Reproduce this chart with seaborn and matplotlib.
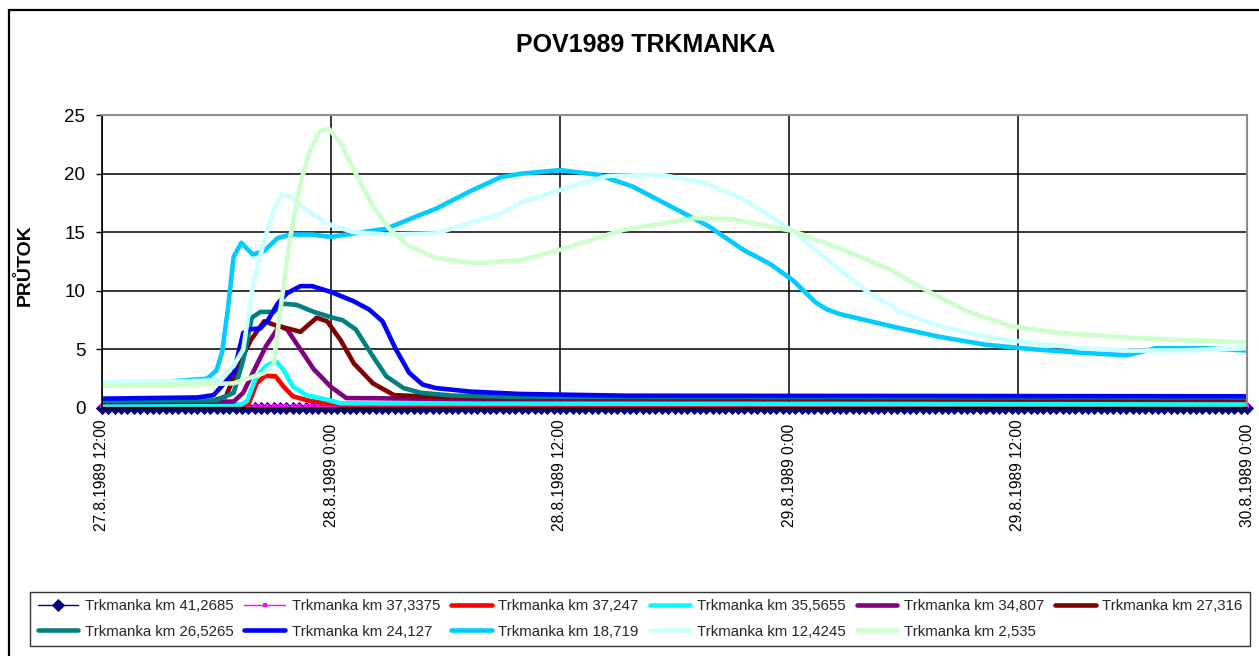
import numpy as np
import pandas as pd
import matplotlib
matplotlib.use("Agg")
import matplotlib.pyplot as plt
from matplotlib.patches import Rectangle
import seaborn as sns

TITLE = "POV1989 TRKMANKA"
Y_LABEL = "PRŮTOK"
X_TICK_HOURS = [0, 12, 24, 36, 48, 60]
X_TICK_LABELS = ["27.8.1989 12:00", "28.8.1989 0:00", "28.8.1989 12:00",
                 "29.8.1989 0:00", "29.8.1989 12:00", "30.8.1989 0:00"]
Y_TICKS = [0, 5, 10, 15, 20, 25]

# gauge readings every 20 minutes, hours since 27.8.1989 12:00
SAMPLE_HOURS = np.arange(0, 60 + 1e-6, 1 / 3)

# upstream profiles stay at their base level for the whole event
KM41_2685_FLOW = [0.0] * len(SAMPLE_HOURS)
KM37_3375_FLOW = [0.15] * len(SAMPLE_HOURS)

KM37_247_H = [0, 7.4, 7.7, 8.1, 8.55, 9.1, 9.5, 10.0, 10.9, 11.8, 12.5, 60]
KM37_247_Q = [0.25, 0.25, 0.4, 2.1, 2.75, 2.7, 1.85, 1.0, 0.6, 0.4, 0.3, 0.3]

KM35_5655_H = [0, 7.3, 7.6, 8.1, 8.6, 9.1, 9.5, 10.0, 10.7, 11.8, 12.5, 60]
KM35_5655_Q = [0.3, 0.3, 0.6, 2.7, 3.6, 4.0, 3.3, 1.85, 1.1, 0.7, 0.4, 0.3]

KM34_807_H = [0, 6.9, 7.4, 7.9, 8.6, 9.3, 9.7, 10.4, 11.1, 12, 12.8, 20, 60]
KM34_807_Q = [0.5, 0.55, 1.3, 3.0, 5.3, 7.0, 6.7, 5.0, 3.3, 1.8, 0.85, 0.75, 0.7]

KM27_316_H = [0, 5.8, 6.5, 7.2, 7.8, 8.5, 9.2, 9.7, 10.4, 11.25, 11.8, 12.5,
              13.2, 14.2, 15.3, 16.7, 20, 60]
KM27_316_Q = [0.55, 0.6, 1.0, 3.8, 5.8, 7.4, 7.0, 6.8, 6.5, 7.7, 7.4, 5.8,
              3.8, 2.1, 1.1, 1.0, 0.85, 0.75]

KM26_5265_H = [0, 6.0, 6.9, 7.4, 7.85, 8.3, 9.0, 9.5, 10.2, 11.1, 12.1, 12.6,
               13.3, 14.2, 14.9, 15.8, 16.7, 18.4, 22, 60]
KM26_5265_Q = [0.6, 0.65, 1.3, 4.1, 7.7, 8.2, 8.2, 8.9, 8.8, 8.2, 7.7, 7.5,
               6.7, 4.4, 2.7, 1.7, 1.3, 1.05, 0.95, 0.9]

KM24_127_H = [0, 5, 5.85, 6.9, 7.4, 7.7, 8.3, 8.7, 9.2, 9.7, 10.4, 11.0, 12,
              13.2, 14.0, 14.7, 15.4, 16.1, 16.8, 17.5, 19.3, 21.9, 27.5, 60]
KM24_127_Q = [0.8, 0.9, 1.1, 3.0, 6.4, 6.7, 6.8, 7.5, 8.9, 9.8, 10.4, 10.4, 9.9,
              9.1, 8.4, 7.4, 5.0, 3.0, 2.0, 1.7, 1.4, 1.2, 1.05, 1.0]

KM18_719_H = [0, 3, 5.5, 6.0, 6.3, 6.6, 6.9, 7.3, 7.6, 7.9, 8.5, 9.2, 9.9, 11,
              12, 13.2, 14.9, 16.7, 17.5, 19.3, 20.9, 22, 24, 26, 27.8, 29.8,
              31.8, 33.6, 35, 36.2, 36.9, 37.4, 38.0, 38.7, 41.3, 43.8, 46.3,
              48.9, 51.4, 53.7, 54.5, 55.2, 57.8, 60]
KM18_719_Q = [2.1, 2.2, 2.5, 3.2, 4.8, 8.5, 12.9, 14.1, 13.6, 13.1, 13.4, 14.5,
              14.8, 14.8, 14.6, 14.9, 15.3, 16.5, 17.0, 18.5, 19.7, 20.0, 20.3,
              19.9, 18.9, 17.2, 15.5, 13.5, 12.3, 10.9, 9.8, 9.0, 8.4, 8.0, 7.0,
              6.1, 5.4, 5.0, 4.7, 4.5, 4.8, 5.1, 5.1, 4.9]

KM12_4245_H = [0, 5, 6.2, 6.9, 7.4, 7.9, 8.5, 9.0, 9.4, 9.9, 10.7, 12, 13.2,
               14.9, 17.5, 19.3, 20.9, 21.9, 24, 26.5, 29.3, 31.6, 33.6, 35.1,
               36.2, 38.2, 40.2, 42, 43.8, 46.3, 48.9, 51.4, 53.9, 56.5, 60]
KM12_4245_Q = [2.2, 2.3, 2.4, 3.6, 5.0, 10.4, 14.3, 16.9, 18.2, 18.0, 16.9,
               15.6, 15.0, 14.8, 14.9, 15.8, 16.6, 17.5, 18.6, 19.8, 19.9, 19.2,
               17.8, 16.3, 15.1, 12.4, 9.8, 8.1, 7.0, 6.1, 5.5, 5.1, 4.9, 4.9, 5.1]

KM2_535_H = [0, 4, 6.9, 8.5, 9.0, 9.3, 9.6, 9.9, 10.4, 10.9, 11.4, 11.9, 12.5,
             13.2, 14.2, 15.1, 16.1, 17.5, 19.3, 20.1, 20.9, 21.9, 24, 27.3,
             31.1, 33.1, 36.2, 38.7, 41.3, 43.8, 45.6, 47.6, 50.2, 53.9, 56.5, 60]
KM2_535_Q = [1.9, 2.0, 2.1, 3.0, 3.8, 7.8, 11.5, 14.9, 19.2, 22.0, 23.6, 23.8,
             22.6, 20.3, 17.2, 15.2, 13.8, 12.8, 12.4, 12.4, 12.5, 12.6, 13.5,
             15.2, 16.2, 16.1, 15.1, 13.6, 11.8, 9.5, 8.1, 7.0, 6.4, 6.0, 5.8, 5.6]

SERIES = [
    ("Trkmanka km 41,2685", SAMPLE_HOURS, KM41_2685_FLOW, "#000080"),
    ("Trkmanka km 37,3375", SAMPLE_HOURS, KM37_3375_FLOW, "#FF00FF"),
    ("Trkmanka km 37,247", KM37_247_H, KM37_247_Q, "#FF0000"),
    ("Trkmanka km 35,5655", KM35_5655_H, KM35_5655_Q, "#00FFFF"),
    ("Trkmanka km 34,807", KM34_807_H, KM34_807_Q, "#800080"),
    ("Trkmanka km 27,316", KM27_316_H, KM27_316_Q, "#800000"),
    ("Trkmanka km 26,5265", KM26_5265_H, KM26_5265_Q, "#008080"),
    ("Trkmanka km 24,127", KM24_127_H, KM24_127_Q, "#0000FF"),
    ("Trkmanka km 18,719", KM18_719_H, KM18_719_Q, "#00CCFF"),
    ("Trkmanka km 12,4245", KM12_4245_H, KM12_4245_Q, "#CCFFFF"),
    ("Trkmanka km 2,535", KM2_535_H, KM2_535_Q, "#CCFFCC"),
]

sns.set_theme(style="white")
plt.rcParams["font.family"] = ["Liberation Sans", "DejaVu Sans"]

W, H = 1259, 656
fig = plt.figure(figsize=(W / 100, H / 100), dpi=100)
fig.patch.set_facecolor("white")
ax = fig.add_axes([102 / W, (H - 408) / H, (1247 - 102) / W, (408 - 115) / H])

for name, hrs, q, col in SERIES:
    df = pd.DataFrame({"hours": hrs, "flow": q})
    kw = dict(data=df, x="hours", y="flow", ax=ax, color=col, label=name,
              estimator=None, sort=False)
    if name.endswith("41,2685"):
        sns.lineplot(**kw, linewidth=1.0, marker="D", markersize=6.0,
                     markeredgewidth=0.6, markeredgecolor=col, clip_on=False)
    elif name.endswith("37,3375"):
        sns.lineplot(**kw, linewidth=1.0, marker="s", markersize=3.2,
                     markeredgewidth=0, clip_on=False)
    else:
        sns.lineplot(**kw, linewidth=3.3, solid_joinstyle="round",
                     solid_capstyle="round")

if ax.get_legend() is not None:
    ax.get_legend().remove()

ax.set_xlim(0, 60)
ax.set_ylim(0, 25)
ax.set_xticks(X_TICK_HOURS)
ax.set_xticklabels(X_TICK_LABELS, rotation=90, fontsize=11.2, va="center")
ax.set_yticks(Y_TICKS)
ax.set_yticklabels([str(t) for t in Y_TICKS], fontsize=13.5)
ax.set_xlabel("")
ax.set_ylabel("")
ax.grid(True, color="black", linewidth=1.1)
ax.set_axisbelow(True)
ax.tick_params(axis="both", direction="out", length=4.5, width=1.0,
               color="black", labelcolor="black")
ax.tick_params(axis="x", pad=44)
ax.tick_params(axis="y", pad=7.5)
ax.xaxis.set_ticks_position("bottom")
ax.yaxis.set_ticks_position("left")
for side in ("left", "bottom"):
    ax.spines[side].set_color("black")
    ax.spines[side].set_linewidth(1.2)
for side in ("top", "right"):
    ax.spines[side].set_color("#8c8c8c")
    ax.spines[side].set_linewidth(1.5)

fig.text(646 / W, 1 - 45 / H, TITLE, ha="center", va="center",
         fontsize=18, fontweight="bold", color="black")
fig.text(25 / W, 1 - 265 / H, Y_LABEL, ha="center", va="center",
         rotation=90, fontsize=14, fontweight="bold", color="black")

# outer chart frame
fig.patches.append(Rectangle((9 / W, -0.1), 1.2, 1.1 - 10 / H,
                             transform=fig.transFigure, fill=False,
                             edgecolor="black", linewidth=1.6))

handles, labels = ax.get_legend_handles_labels()
order = [0, 6, 1, 7, 2, 8, 3, 9, 4, 10, 5]
leg = fig.legend([handles[i] for i in order], [labels[i] for i in order],
                 ncol=6, loc="center", mode="expand",
                 bbox_to_anchor=(30 / W, (H - 647) / H, (1250 - 30) / W, 56 / H),
                 fontsize=10.8, frameon=True, fancybox=False, shadow=False,
                 handlelength=2.7, handletextpad=0.45, labelspacing=0.75,
                 borderpad=0.5, borderaxespad=0.0, columnspacing=1.0)
leg.get_frame().set_edgecolor("black")
leg.get_frame().set_linewidth(1.0)

fig.savefig("out.png", dpi=100, facecolor="white")
